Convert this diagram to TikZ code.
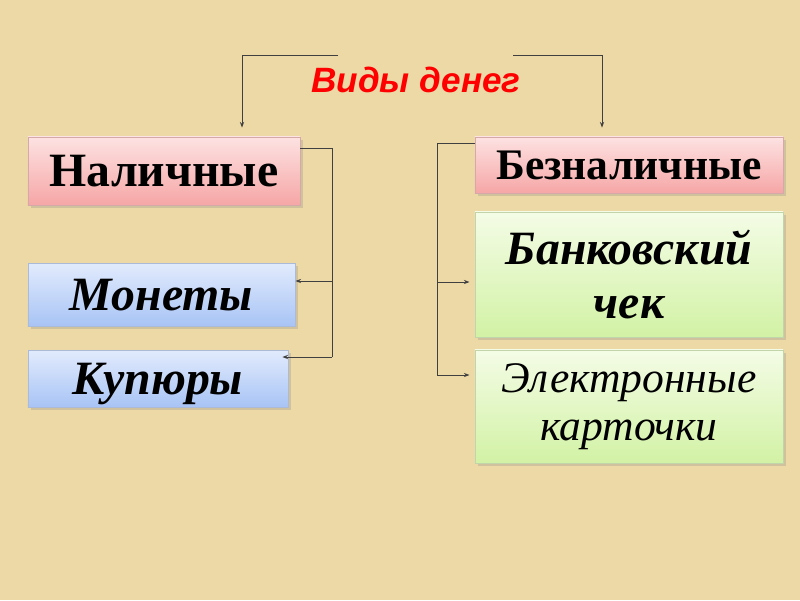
\documentclass[tikz,border=0pt]{standalone}
\usepackage{fontspec}
\setmainfont{Liberation Serif}
\newfontfamily\titlefont{Liberation Sans}
\usetikzlibrary{arrows.meta,shadows}

\definecolor{parchment}{RGB}{236,217,166}
\definecolor{pinktop}{RGB}{253,226,226}
\definecolor{pinkbot}{RGB}{246,166,166}
\definecolor{bluetop}{RGB}{226,235,253}
\definecolor{bluebot}{RGB}{168,196,245}
\definecolor{greentop}{RGB}{244,252,230}
\definecolor{greenbot}{RGB}{210,242,165}

\begin{document}
\begin{tikzpicture}[
      x=0.025cm, y=-0.025cm,
      box/.style ={draw=#1bot!80!black!70, line width=0.6pt,
                   top color=#1top, bottom color=#1bot,
                   drop shadow={opacity=0.25,shadow xshift=2pt,shadow yshift=-2pt},
                   align=center, inner sep=0pt,
                   font=\fontsize{34}{38}\selectfont\bfseries},
      box/.default=pink,
      oneline/.style ={text height=#1, text depth=0pt},
      oneline/.default=22.5pt,
      link/.style ={draw=black!75, line width=0.7pt},
      tip/.style ={-{Stealth[length=4pt,width=3pt]}}
      ]
    \fill[parchment] (0,0) rectangle (800,600);
    \useasboundingbox (0,0) rectangle (800,600);

    \node[text=red, font=\titlefont\fontsize{25}{30}\selectfont\bfseries\itshape] (title) at (416,80) {Виды денег};

    \node[box, oneline, minimum width=6.8cm, minimum height=1.7cm] (nal) at (164,171) {Наличные};
    \node[box=blue, oneline, minimum width=6.675cm, minimum height=1.575cm] (mon) at (161.5,294.5) {\itshape Монеты};
    \node[box=blue, oneline, minimum width=6.5cm, minimum height=1.425cm] (kup) at (158,378.5) {\itshape Купюры};

    \node[box, oneline=20.5pt, minimum width=7.7cm, minimum height=1.4cm,
          font=\fontsize{31}{36}\selectfont\bfseries] (bez) at (629,165) {Безналичные};
    \node[box=green, minimum width=7.7cm, minimum height=3.125cm] (bank) at (629,274.5) {\itshape Банковский\\\itshape чек};
    \node[box=green, minimum width=7.7cm, minimum height=2.825cm,
          font=\fontsize{31}{34}\selectfont\itshape] (el) at (629,406.5) {Электронные\\карточки};

    % bracket over the two kinds
    \coordinate (tl0) at (338,55); \coordinate (tl) at (242,55);
    \coordinate (tr0) at (513,55); \coordinate (tr) at (602,55);
    \draw[link,tip,shorten >=6.4pt] (tl0) -- (tl) -- (tl |- nal.north);
    \draw[link,tip,shorten >=6.4pt] (tr0) -- (tr) -- (tr |- bez.north);

    % cash
    \coordinate (ltop) at (332,148); \coordinate (lmid) at (332,281); \coordinate (lbot) at (332,357);
    \draw[link] (nal.east |- ltop) -- (ltop) -- (lbot);
    \draw[link,tip] (lmid) -- (mon.east |- lmid);
    \draw[link,tip,shorten >=-4.3pt] (lbot) -- (kup.east |- lbot);

    % non-cash
    \coordinate (rtop) at (437,143); \coordinate (rmid) at (437,282); \coordinate (rbot) at (437,375);
    \draw[link] (bez.west |- rtop) -- (rtop) -- (rbot);
    \draw[link,tip,shorten >=3.6pt] (rmid) -- (bank.west |- rmid);
    \draw[link,tip,shorten >=3.6pt] (rbot) -- (el.west |- rbot);
\end{tikzpicture}
\end{document}
